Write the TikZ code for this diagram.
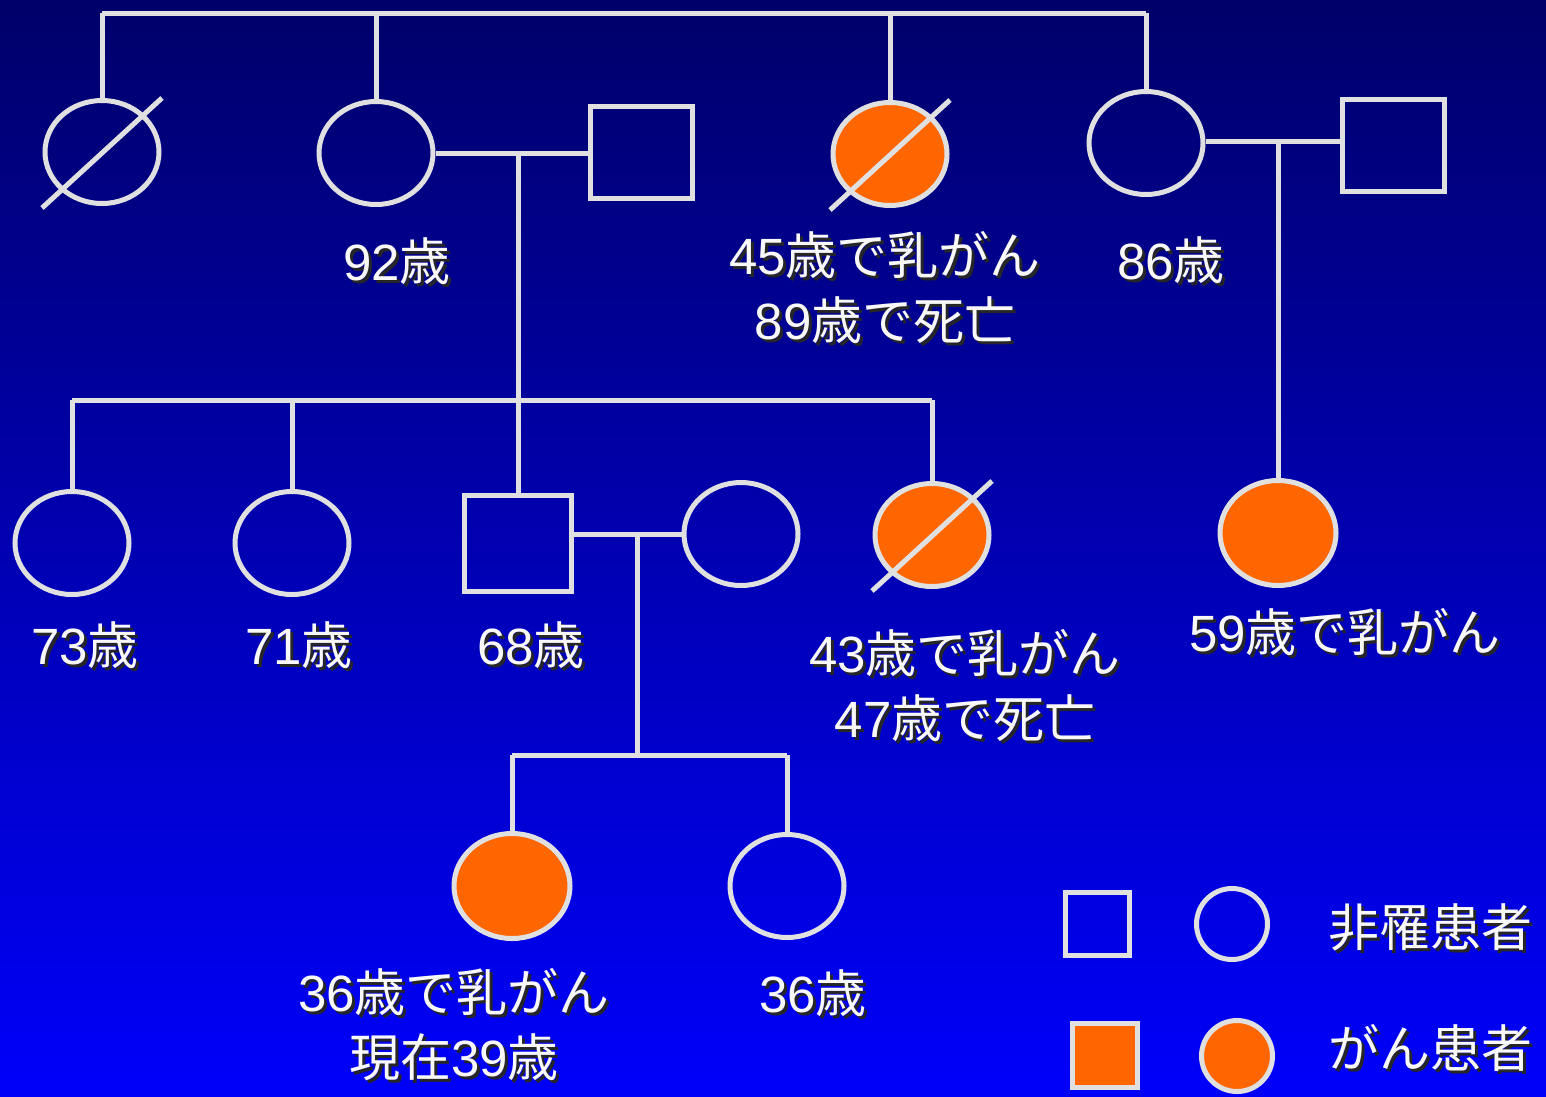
\documentclass[tikz,border=0pt]{standalone}
\usepackage{fontspec}
\setmainfont{Liberation Sans}
\newfontfamily\cjk{Noto Sans CJK JP}
\usetikzlibrary{shapes.geometric,calc}
\definecolor{lg}{RGB}{224,224,224}
\definecolor{orng}{RGB}{255,102,0}
\definecolor{bgtop}{RGB}{0,0,105}
\definecolor{bgbot}{RGB}{0,0,250}
\definecolor{txtw}{RGB}{248,248,248}
\newcommand\J[1]{{\cjk #1}}
\newcommand\shlabel[3]{%
  \node[shd] (#2s) at ($(#1)+(3,3)$) {#3};
  \node[lbl] (#2) at (#1) {#3};}
\newcommand\decslash[1]{%
  \draw[conn] ($(#1.center)+(-60,56)$) -- ($(#1.center)+(60,-54)$);}
\begin{document}
\begin{tikzpicture}[x=1pt,y=-1pt,
  fem/.style={ellipse, draw=lg, line width=5pt, minimum width=114pt, minimum height=103pt, inner sep=0pt},
  male/.style={rectangle, draw=lg, line width=5pt, minimum width=102pt, minimum height=92pt, inner sep=0pt},
  aff/.style={fill=orng},
  conn/.style={draw=lg, line width=5pt},
  lbl/.style={text=txtw, font=\fontsize{51}{65}\selectfont, align=center, inner sep=0pt},
  shd/.style={lbl, text=black!85}]
\useasboundingbox (0,0) rectangle (1546,1096);
\shade[top color=bgtop, bottom color=bgbot] (0,0) rectangle (1546,1096);

% Generation I
\node[fem] (A) at (102,152) {};
\node[fem] (B) at (376,153) {};
\node[male] (C) at (641,152) {};
\node[fem,aff] (D) at (890,154) {};
\node[fem] (E) at (1146,143) {};
\node[male] (F) at (1393,145) {};

% Generation II
\node[fem] (G) at (72,543) {};
\node[fem] (H) at (292,543) {};
\node[male, minimum width=107pt, minimum height=96pt] (I) at (518,543) {};
\node[fem] (Jf) at (741,534) {};
\node[fem,aff] (K) at (932,535) {};
\node[fem,aff, minimum width=116pt, minimum height=105pt] (L) at (1278,533) {};

% Generation III
\node[fem,aff, minimum width=116pt, minimum height=105pt] (M) at (512,886) {};
\node[fem] (N) at (787,886) {};

% coordinates
\coordinate (top) at (100,13);
\coordinate (m1) at (518,152);
\coordinate (s1) at (518,400);
\coordinate (m2) at (1278,141);
\coordinate (m3) at (637,534);
\coordinate (s3) at (637,755);

% top sibship
\draw[conn] (A.north |- top) -- (E.north |- top);
\foreach \n in {A,B,D,E} \draw[conn] (\n.north) -- (\n.north |- top);

% marriages
\draw[conn] (B.east) -- (B.east -| C.west);
\draw[conn] (m1) -- (I.north);
\draw[conn] (G.north |- s1) -- (K.north |- s1);
\foreach \n in {G,H,K} \draw[conn] (\n.north) -- (\n.north |- s1);

\draw[conn] (E.east |- m2) -- (m2 -| F.west);
\draw[conn] (m2) -- (L.north);

\draw[conn] (I.east |- m3) -- (Jf.west);
\draw[conn] (m3) -- (s3);
\draw[conn] (M.north |- s3) -- (N.north |- s3);
\foreach \n in {M,N} \draw[conn] (\n.north) -- (\n.north |- s3);

% deceased slashes
\decslash{A}
\decslash{D}
\decslash{K}

% labels
\shlabel{397,261}{lB}{92\J{歳}}
\shlabel{885,288}{lD}{45\J{歳で乳がん}\\89\J{歳で死亡}}
\shlabel{1171,260}{lE}{86\J{歳}}
\shlabel{85,645}{lG}{73\J{歳}}
\shlabel{299,645}{lH}{71\J{歳}}
\shlabel{531,645}{lI}{68\J{歳}}
\shlabel{965,686}{lK}{43\J{歳で乳がん}\\47\J{歳で死亡}}
\shlabel{1345,632}{lL}{59\J{歳で乳がん}}
\shlabel{454,1025}{lM}{36\J{歳で乳がん}\\\J{現在}39\J{歳}}
\shlabel{813,993}{lN}{36\J{歳}}

% legend
\node[male, minimum width=64pt, minimum height=63pt] (leg1) at (1097,924) {};
\node[circle, draw=lg, line width=5pt, minimum size=71pt, inner sep=0pt] (leg2) at (1232,924) {};
\node[male, aff, minimum width=65pt, minimum height=64pt] (leg3) at (1105,1055) {};
\node[circle, draw=lg, fill=orng, line width=5pt, minimum size=71pt, inner sep=0pt] (leg4) at (1237,1056) {};
\shlabel{1430,927}{lg1}{\J{非罹患者}}
\shlabel{1430,1048}{lg2}{\J{がん患者}}
\end{tikzpicture}
\end{document}
